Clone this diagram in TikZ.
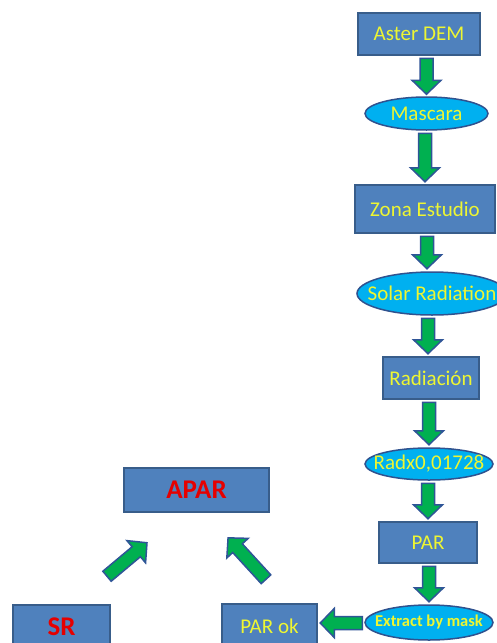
\documentclass[tikz,border=0pt]{standalone}
\usepackage{fontspec}
\setmainfont{Carlito}
\usetikzlibrary{calc,shapes.geometric}
\definecolor{boxfill}{HTML}{4F81BD}
\definecolor{boxedge}{HTML}{385D8A}
\definecolor{ellfill}{HTML}{00B0F0}
\definecolor{elledge}{HTML}{2F528F}
\definecolor{arrfill}{HTML}{00B050}
\definecolor{arredge}{HTML}{2F5597}
\definecolor{txtyellow}{RGB}{238,246,50}
\definecolor{txtred}{RGB}{230,0,0}
\newcommand\fsz[1]{\fontsize{#1}{#1}\selectfont}
\newcommand\blockarr[2]{%
  \path[draw=arredge, fill=arrfill, line width=1.5pt, line join=miter]
    let \p1=(#1), \p2=(#2), \n1={atan2(\y2-\y1,\x2-\x1)}, \n2={veclen(\x2-\x1,\y2-\y1)} in
    [shift={(\p1)}, rotate=\n1]
    (0,-6.5) -- ({\n2-14},-6.5) -- ({\n2-14},-14.5) -- (\n2,0) -- ({\n2-14},14.5) -- ({\n2-14},6.5) -- (0,6.5) -- cycle;}
\begin{document}
\begin{tikzpicture}[x=1pt,y=1pt,
  rbox/.style={draw=boxedge, fill=boxfill, line width=1.5pt, inner sep=0pt, text=txtyellow, font=\fsz{21}},
  ell/.style={ellipse, draw=elledge, fill=ellfill, line width=1.5pt, inner sep=0pt, text=txtyellow, font=\fsz{21}},
  redtxt/.style={text=txtred, font=\fsz{27}\bfseries}]
\useasboundingbox (0,0) rectangle (496,-643);
\node[rbox, minimum width=122, minimum height=42] (aster) at (419,-34) {Aster DEM};
\node[ell, minimum width=123, minimum height=33] (mascara) at (426.5,-113.5) {\makebox[0pt]{Mascara}};
\node[rbox, minimum width=140, minimum height=48] (zona) at (425,-209) {Zona Estudio};
\node[ell, minimum width=150, minimum height=43] (solar) at (432,-293.5) {\makebox[0pt]{Solar Radiation}};
\node[rbox, minimum width=96, minimum height=42] (radiacion) at (431,-378) {Radiación};
\node[ell, minimum width=128, minimum height=32] (radx) at (429,-464) {\makebox[0pt]{Radx0,01728}};
\node[rbox, minimum width=98, minimum height=41] (par) at (428,-542.5) {PAR};
\node[ell, minimum width=128, minimum height=35, font=\fsz{16.5}\bfseries] (extract) at (429,-622.5) {\makebox[0pt]{Extract by mask}};
\node[rbox, minimum width=95, minimum height=44] (parok) at (269.5,-626) {PAR ok};
\node[rbox, redtxt, minimum width=97, minimum height=44] (sr) at (61.5,-627) {SR};
\node[rbox, redtxt, minimum width=145, minimum height=44] (apar) at (196.5,-490) {APAR};
\blockarr{$(aster.south -| mascara.center)+(0,-2.5)$}{$(mascara.north)+(0,2)$}
\blockarr{$(mascara.south -| zona.center)+(0,-2.5)$}{$(zona.north)+(0,2.5)$}
\blockarr{$(zona.south -| solar.center)+(-5,-2.5)$}{$(solar.north)+(-5,2.5)$}
\blockarr{$(solar.south -| radiacion.center)+(-3,-2.5)$}{$(radiacion.north)+(-3,2.5)$}
\blockarr{$(radiacion.south -| radx.center)+(0,-2.5)$}{$(radx.north)+(0,2.5)$}
\blockarr{$(radx.south -| par.center)+(0,-2.5)$}{$(par.north)+(0,2.5)$}
\blockarr{$(par.south -| extract.center)+(0,-2.5)$}{$(extract.north)+(0,2.5)$}
\blockarr{$(extract.west)+(-2,-0.5)$}{$(parok.east |- extract.west)+(2.5,-0.5)$}
\blockarr{$(sr.north)+(45.5,28)$}{$(apar.south)+(-49.5,-30)$}
\blockarr{$(parok.north)+(-3.5,24)$}{$(apar.south)+(31.5,-25)$}
\end{tikzpicture}
\end{document}
